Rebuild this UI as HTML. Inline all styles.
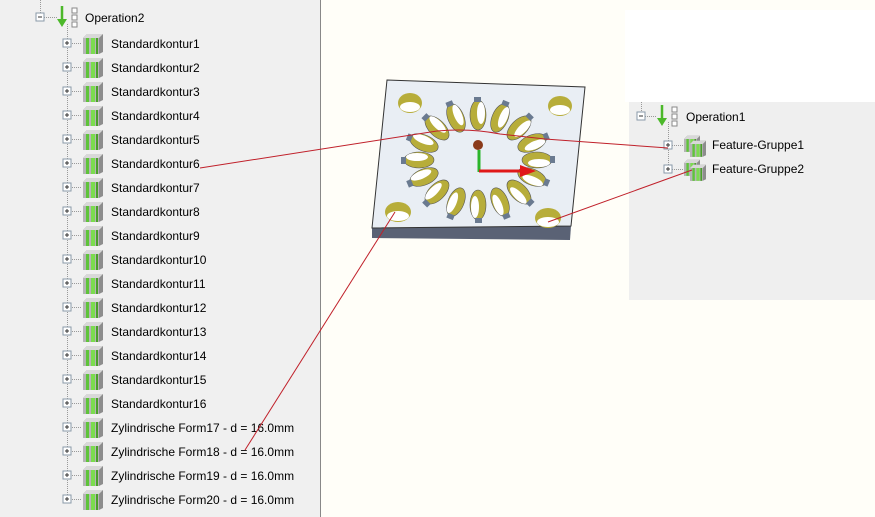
<!DOCTYPE html>
<html><head><meta charset="utf-8"><style>
html,body{margin:0;padding:0;background:#fffef8;}
svg{display:block;font-family:"Liberation Sans",sans-serif;}
</style></head><body>
<svg width="875" height="517" viewBox="0 0 875 517" xmlns="http://www.w3.org/2000/svg">
<defs>
<g id="ic">
<path d="M0,5 L4,1 L20,1 L20,19 L16,21 L0,21 Z" fill="#8d8d8d"/>
<rect x="0" y="5" width="16" height="16" fill="#b5b5b5"/>
<path d="M0,5 L4,1 L20,1 L16,5 Z" fill="#d8d8d8"/>
<rect x="3" y="5" width="3" height="16" fill="#5fc43a"/>
<rect x="8" y="5" width="4" height="16" fill="#7bdc4e"/>
<rect x="13" y="5" width="2" height="16" fill="#4aa02a"/>
</g>
<g id="pl"><rect x="0" y="0" width="8" height="8" fill="#fff" stroke="#8a9aa8" stroke-width="1"/><path d="M2,4h4M4,2v4" stroke="#333" stroke-width="1"/></g>
<g id="ic2">
<use href="#ic" transform="scale(0.8)"/>
<use href="#ic" transform="translate(6,5) scale(0.8)"/>
</g>
<g id="slot">
<ellipse cx="0" cy="0" rx="15" ry="8" fill="#b7ad3a" stroke="#555" stroke-width="0.6"/>
<ellipse cx="2" cy="3" rx="11" ry="4" fill="#fff"/>
<rect x="13" y="-4" width="5" height="7" fill="#6a7a90"/>
</g>
</defs>
<rect x="0" y="0" width="320" height="517" fill="#f0f0f0"/>
<line x1="320.5" y1="0" x2="320.5" y2="517" stroke="#888" />
<rect x="625" y="10" width="250" height="92" fill="#ffffff"/>
<rect x="629" y="102" width="246" height="198" fill="#efefef"/>

<g stroke="#999" stroke-dasharray="1,1" fill="none">
<line x1="40.5" y1="0" x2="40.5" y2="14"/>
<line x1="44" y1="17.5" x2="58" y2="17.5"/>
<line x1="67.5" y1="24" x2="67.5" y2="500"/>
</g>
<g><rect x="36" y="13" width="8" height="8" fill="#fff" stroke="#8a9aa8"/><path d="M38,17h4" stroke="#333"/></g>
<path d="M62,6 v16" stroke="#4cb82a" stroke-width="2.5"/><path d="M57,19 L62,27 L67,19Z" fill="#4cb82a"/>
<g fill="#fff" stroke="#888"><rect x="72" y="8" width="5" height="5"/><rect x="72" y="15" width="5" height="5"/><rect x="72" y="22" width="5" height="5"/></g>
<text x="85" y="22" font-size="12" fill="#000">Operation2</text>

<g font-size="12" fill="#000">
<g transform="translate(0,43)"><use href="#pl" x="63" y="-4"/><line x1="72" y1="0.5" x2="82" y2="0.5" stroke="#999" stroke-dasharray="1,1"/><use href="#ic" x="83" y="-10"/><text x="111" y="5">Standardkontur1</text></g>
<g transform="translate(0,67)"><use href="#pl" x="63" y="-4"/><line x1="72" y1="0.5" x2="82" y2="0.5" stroke="#999" stroke-dasharray="1,1"/><use href="#ic" x="83" y="-10"/><text x="111" y="5">Standardkontur2</text></g>
<g transform="translate(0,91)"><use href="#pl" x="63" y="-4"/><line x1="72" y1="0.5" x2="82" y2="0.5" stroke="#999" stroke-dasharray="1,1"/><use href="#ic" x="83" y="-10"/><text x="111" y="5">Standardkontur3</text></g>
<g transform="translate(0,115)"><use href="#pl" x="63" y="-4"/><line x1="72" y1="0.5" x2="82" y2="0.5" stroke="#999" stroke-dasharray="1,1"/><use href="#ic" x="83" y="-10"/><text x="111" y="5">Standardkontur4</text></g>
<g transform="translate(0,139)"><use href="#pl" x="63" y="-4"/><line x1="72" y1="0.5" x2="82" y2="0.5" stroke="#999" stroke-dasharray="1,1"/><use href="#ic" x="83" y="-10"/><text x="111" y="5">Standardkontur5</text></g>
<g transform="translate(0,163)"><use href="#pl" x="63" y="-4"/><line x1="72" y1="0.5" x2="82" y2="0.5" stroke="#999" stroke-dasharray="1,1"/><use href="#ic" x="83" y="-10"/><text x="111" y="5">Standardkontur6</text></g>
<g transform="translate(0,187)"><use href="#pl" x="63" y="-4"/><line x1="72" y1="0.5" x2="82" y2="0.5" stroke="#999" stroke-dasharray="1,1"/><use href="#ic" x="83" y="-10"/><text x="111" y="5">Standardkontur7</text></g>
<g transform="translate(0,211)"><use href="#pl" x="63" y="-4"/><line x1="72" y1="0.5" x2="82" y2="0.5" stroke="#999" stroke-dasharray="1,1"/><use href="#ic" x="83" y="-10"/><text x="111" y="5">Standardkontur8</text></g>
<g transform="translate(0,235)"><use href="#pl" x="63" y="-4"/><line x1="72" y1="0.5" x2="82" y2="0.5" stroke="#999" stroke-dasharray="1,1"/><use href="#ic" x="83" y="-10"/><text x="111" y="5">Standardkontur9</text></g>
<g transform="translate(0,259)"><use href="#pl" x="63" y="-4"/><line x1="72" y1="0.5" x2="82" y2="0.5" stroke="#999" stroke-dasharray="1,1"/><use href="#ic" x="83" y="-10"/><text x="111" y="5">Standardkontur10</text></g>
<g transform="translate(0,283)"><use href="#pl" x="63" y="-4"/><line x1="72" y1="0.5" x2="82" y2="0.5" stroke="#999" stroke-dasharray="1,1"/><use href="#ic" x="83" y="-10"/><text x="111" y="5">Standardkontur11</text></g>
<g transform="translate(0,307)"><use href="#pl" x="63" y="-4"/><line x1="72" y1="0.5" x2="82" y2="0.5" stroke="#999" stroke-dasharray="1,1"/><use href="#ic" x="83" y="-10"/><text x="111" y="5">Standardkontur12</text></g>
<g transform="translate(0,331)"><use href="#pl" x="63" y="-4"/><line x1="72" y1="0.5" x2="82" y2="0.5" stroke="#999" stroke-dasharray="1,1"/><use href="#ic" x="83" y="-10"/><text x="111" y="5">Standardkontur13</text></g>
<g transform="translate(0,355)"><use href="#pl" x="63" y="-4"/><line x1="72" y1="0.5" x2="82" y2="0.5" stroke="#999" stroke-dasharray="1,1"/><use href="#ic" x="83" y="-10"/><text x="111" y="5">Standardkontur14</text></g>
<g transform="translate(0,379)"><use href="#pl" x="63" y="-4"/><line x1="72" y1="0.5" x2="82" y2="0.5" stroke="#999" stroke-dasharray="1,1"/><use href="#ic" x="83" y="-10"/><text x="111" y="5">Standardkontur15</text></g>
<g transform="translate(0,403)"><use href="#pl" x="63" y="-4"/><line x1="72" y1="0.5" x2="82" y2="0.5" stroke="#999" stroke-dasharray="1,1"/><use href="#ic" x="83" y="-10"/><text x="111" y="5">Standardkontur16</text></g>
<g transform="translate(0,427)"><use href="#pl" x="63" y="-4"/><line x1="72" y1="0.5" x2="82" y2="0.5" stroke="#999" stroke-dasharray="1,1"/><use href="#ic" x="83" y="-10"/><text x="111" y="5">Zylindrische Form17 - d = 16.0mm</text></g>
<g transform="translate(0,451)"><use href="#pl" x="63" y="-4"/><line x1="72" y1="0.5" x2="82" y2="0.5" stroke="#999" stroke-dasharray="1,1"/><use href="#ic" x="83" y="-10"/><text x="111" y="5">Zylindrische Form18 - d = 16.0mm</text></g>
<g transform="translate(0,475)"><use href="#pl" x="63" y="-4"/><line x1="72" y1="0.5" x2="82" y2="0.5" stroke="#999" stroke-dasharray="1,1"/><use href="#ic" x="83" y="-10"/><text x="111" y="5">Zylindrische Form19 - d = 16.0mm</text></g>
<g transform="translate(0,499)"><use href="#pl" x="63" y="-4"/><line x1="72" y1="0.5" x2="82" y2="0.5" stroke="#999" stroke-dasharray="1,1"/><use href="#ic" x="83" y="-10"/><text x="111" y="5">Zylindrische Form20 - d = 16.0mm</text></g>
</g>

<g stroke="#999" stroke-dasharray="1,1" fill="none">
<line x1="641.5" y1="102" x2="641.5" y2="112"/>
<line x1="645" y1="116.5" x2="656" y2="116.5"/>
<line x1="668.5" y1="122" x2="668.5" y2="170"/>
<line x1="672" y1="145.5" x2="684" y2="145.5"/>
<line x1="672" y1="169.5" x2="684" y2="169.5"/>
</g>
<g><rect x="637" y="112" width="8" height="8" fill="#fff" stroke="#8a9aa8"/><path d="M639,116h4" stroke="#333"/></g>
<path d="M662,105 v16" stroke="#4cb82a" stroke-width="2.5"/><path d="M657,118 L662,126 L667,118Z" fill="#4cb82a"/>
<g fill="#fff" stroke="#888"><rect x="672" y="107" width="5" height="5"/><rect x="672" y="114" width="5" height="5"/><rect x="672" y="121" width="5" height="5"/></g>
<text x="686" y="121" font-size="12" fill="#000">Operation1</text>
<use href="#pl" x="664" y="141"/><use href="#pl" x="664" y="165"/>
<use href="#ic2" x="684" y="135"/><use href="#ic2" x="684" y="159"/>
<text x="712" y="149" font-size="12" fill="#000">Feature-Gruppe1</text>
<text x="712" y="173" font-size="12" fill="#000">Feature-Gruppe2</text>

<path d="M372,228 L571,226 L570,240 L372,238 Z" fill="#5a6275"/>
<path d="M387,80 L585,87 L571,226 L372,228 Z" fill="#e9eef4" stroke="#333" stroke-width="1"/>
<g>
<ellipse cx="410" cy="103" rx="12" ry="10" fill="#b7ad3a"/><ellipse cx="410" cy="107" rx="10" ry="5" fill="#fff"/>
<ellipse cx="560" cy="106" rx="12" ry="10" fill="#b7ad3a"/><ellipse cx="560" cy="110" rx="10" ry="5" fill="#fff"/>
<ellipse cx="398" cy="212" rx="13" ry="10" fill="#b7ad3a"/><ellipse cx="398" cy="216" rx="11" ry="5" fill="#fff"/>
<ellipse cx="548" cy="218" rx="13" ry="10" fill="#b7ad3a"/><ellipse cx="548" cy="222" rx="11" ry="5" fill="#fff"/>
</g>
<g>
<use href="#slot" transform="translate(537,160)"/>
<use href="#slot" transform="translate(532,177) rotate(22.5)"/>
<use href="#slot" transform="translate(519,192) rotate(45)"/>
<use href="#slot" transform="translate(500,202) rotate(67.5)"/>
<use href="#slot" transform="translate(478,205) rotate(90)"/>
<use href="#slot" transform="translate(456,202) rotate(112.5)"/>
<use href="#slot" transform="translate(437,192) rotate(135)"/>
<use href="#slot" transform="translate(424,177) rotate(157.5)"/>
<use href="#slot" transform="translate(419,160) rotate(180)"/>
<use href="#slot" transform="translate(424,143) rotate(202.5)"/>
<use href="#slot" transform="translate(437,128) rotate(225)"/>
<use href="#slot" transform="translate(456,118) rotate(247.5)"/>
<use href="#slot" transform="translate(478,115) rotate(270)"/>
<use href="#slot" transform="translate(500,118) rotate(292.5)"/>
<use href="#slot" transform="translate(519,128) rotate(315)"/>
<use href="#slot" transform="translate(532,143) rotate(337.5)"/>
</g>
<circle cx="478" cy="145" r="5" fill="#8a3a1a"/>
<path d="M479,150 v22" stroke="#2bb52b" stroke-width="3"/>
<path d="M479,171 h45" stroke="#e01818" stroke-width="3"/><path d="M520,165 L536,171 L520,177Z" fill="#e01818"/>

<g stroke="#c0202a" stroke-width="1" fill="none">
<path d="M200,168 L437,131 Q470,128 500,134 L545,139 L668,148"/>
<line x1="548" y1="222" x2="692" y2="170"/>
<line x1="395" y1="212" x2="245" y2="450"/>
</g>
</svg>
</body></html>
